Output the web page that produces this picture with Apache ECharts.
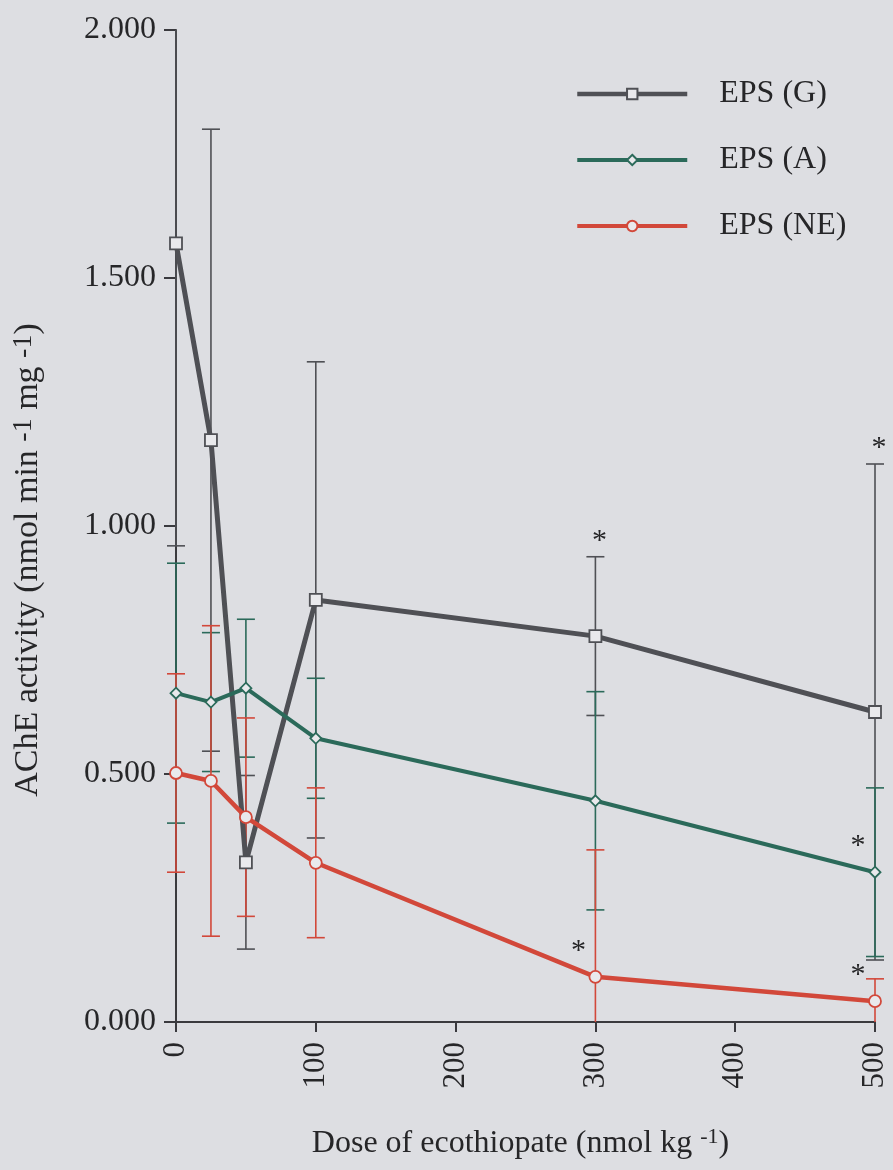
<!DOCTYPE html>
<html>
<head>
<meta charset="utf-8">
<script src="https://cdn.jsdelivr.net/npm/echarts@6/dist/echarts.min.js"></script>
<style>
  html, body { margin: 0; padding: 0; background: #dddee2; }
  #chart { width: 893px; height: 1170px; }
</style>
</head>
<body>
<div id="chart"></div>
<script>
// ---- data ----
const doses = [0, 25, 50, 100, 300, 500];
const xTicks = [0, 100, 200, 300, 400, 500];
const yTicks = [0, 0.5, 1.0, 1.5, 2.0];

const seriesNames = ['EPS (G)', 'EPS (A)', 'EPS (NE)'];

const meanG  = [1.570, 1.173, 0.322, 0.851, 0.778, 0.625];
const errG   = [0.610, 0.627, 0.175, 0.480, 0.160, 0.500];
const starG  = [0, 0, 0, 0, 1, 1];   // 1 = asterisk above bar, 2 = asterisk left of point

const meanA  = [0.663, 0.645, 0.673, 0.572, 0.446, 0.302];
const errA   = [0.262, 0.140, 0.139, 0.121, 0.220, 0.170];
const starA  = [0, 0, 0, 0, 0, 2];

const meanNE = [0.502, 0.486, 0.413, 0.321, 0.091, 0.042];
const errNE  = [0.200, 0.313, 0.200, 0.151, 0.256, 0.045];
const starNE = [0, 0, 0, 0, 2, 2];

// ---- styling ----
const colG = '#4f5055', colA = '#2b6a5a', colNE = '#d2483a';
const axisCol = '#3a3a3e', textCol = '#262628';
const FONT = 'Liberation Serif';
const YMIN = 0, YMAX = 2;

function pts(means) { return doses.map((d, i) => [d, means[i]]); }
function barData(means, errs, stars) { return doses.map((d, i) => [d, means[i], errs[i], stars[i]]); }

function errorSeries(name, color, means, errs, stars) {
  return {
    type: 'custom',
    name: name + ' err',
    z: 1,
    silent: true,
    data: barData(means, errs, stars),
    renderItem: function (params, api) {
      const x = api.value(0), m = api.value(1), e = api.value(2), s = api.value(3);
      const hi = m + e, lo = m - e;
      const pHi = api.coord([x, Math.min(hi, YMAX)]);
      const pLo = api.coord([x, Math.max(lo, YMIN)]);
      const pM = api.coord([x, m]);
      const cap = 9;
      const ls = { stroke: color, lineWidth: 1.6 };
      const ch = [{ type: 'line', shape: { x1: pHi[0], y1: pHi[1], x2: pLo[0], y2: pLo[1] }, style: ls }];
      if (hi <= YMAX) ch.push({ type: 'line', shape: { x1: pHi[0] - cap, y1: pHi[1], x2: pHi[0] + cap, y2: pHi[1] }, style: ls });
      if (lo >= YMIN) ch.push({ type: 'line', shape: { x1: pLo[0] - cap, y1: pLo[1], x2: pLo[0] + cap, y2: pLo[1] }, style: ls });
      if (s === 1) {
        ch.push({ type: 'text', style: { text: '*', x: pHi[0] + 4, y: pHi[1] - 16, textAlign: 'center', textVerticalAlign: 'middle', fill: textCol, font: '30px ' + FONT } });
      } else if (s === 2) {
        ch.push({ type: 'text', style: { text: '*', x: pM[0] - 17, y: pM[1] - 26, textAlign: 'center', textVerticalAlign: 'middle', fill: textCol, font: '30px ' + FONT } });
      }
      return { type: 'group', children: ch };
    }
  };
}

function lineSeries(name, color, means, symbol, size, width) {
  return {
    type: 'line',
    name: name,
    z: 3,
    data: pts(means),
    symbol: symbol,
    symbolSize: size,
    showAllSymbol: true,
    lineStyle: { color: color, width: width },
    itemStyle: { color: '#e9e9ec', borderColor: color, borderWidth: 1.8 },
    emphasis: { disabled: true }
  };
}

const chart = echarts.init(document.getElementById('chart'), null, { renderer: 'canvas' });

chart.setOption({
  backgroundColor: '#dddee2',
  animation: false,
  textStyle: { fontFamily: FONT, color: textCol },
  grid: { left: 176, right: 18, top: 30, bottom: 148, containLabel: false, outerBoundsMode: 'none' },
  legend: {
    orient: 'vertical',
    left: 575,
    top: 78,
    padding: 0,
    itemWidth: 110,
    itemHeight: 13,
    itemGap: 34,
    data: [
      { name: seriesNames[0], lineStyle: { width: 4.5 } },
      { name: seriesNames[1], lineStyle: { width: 4 } },
      { name: seriesNames[2], lineStyle: { width: 4 } }
    ],
    textStyle: { fontFamily: FONT, fontSize: 32, color: textCol, padding: [0, 0, 0, 27] }
  },
  xAxis: {
    type: 'value',
    min: xTicks[0], max: xTicks[xTicks.length - 1], interval: 100,
    name: 'Dose of ecothiopate (nmol kg {s|-1})',
    nameLocation: 'middle',
    nameGap: 104,
    nameTextStyle: {
      fontFamily: FONT, fontSize: 32, color: textCol, padding: [0, 10, 0, 0],
      rich: { s: { fontFamily: FONT, fontSize: 22, color: textCol, padding: [0, 0, 14, 0] } }
    },
    axisLine: { lineStyle: { color: axisCol, width: 2 } },
    axisTick: { length: 10, lineStyle: { color: axisCol, width: 2 } },
    axisLabel: { rotate: 90, margin: 20, fontFamily: FONT, fontSize: 31, color: textCol,
      formatter: v => xTicks.includes(v) ? String(v) : '' },
    splitLine: { show: false }
  },
  yAxis: {
    type: 'value',
    min: yTicks[0], max: yTicks[yTicks.length - 1], interval: 0.5,
    name: 'AChE activity (nmol min {s|-1} mg {s|-1})',
    nameLocation: 'middle',
    nameGap: 130,
    nameTextStyle: {
      fontFamily: FONT, fontSize: 34, color: textCol, padding: [0, 68, 0, 0],
      rich: { s: { fontFamily: FONT, fontSize: 28, color: textCol, padding: [0, 0, 8, 0] } }
    },
    axisLine: { show: true, lineStyle: { color: axisCol, width: 2 } },
    axisTick: { show: true, length: 12, lineStyle: { color: axisCol, width: 2 } },
    axisLabel: { margin: 20, fontFamily: FONT, fontSize: 32, color: textCol,
      formatter: v => v.toFixed(3) },
    splitLine: { show: false }
  },
  series: [
    errorSeries(seriesNames[0], colG, meanG, errG, starG),
    errorSeries(seriesNames[1], colA, meanA, errA, starA),
    errorSeries(seriesNames[2], colNE, meanNE, errNE, starNE),
    lineSeries(seriesNames[0], colG, meanG, 'rect', 12, 5),
    lineSeries(seriesNames[1], colA, meanA, 'diamond', 11, 4),
    lineSeries(seriesNames[2], colNE, meanNE, 'circle', 12, 4.5)
  ]
});
</script>
</body>
</html>
